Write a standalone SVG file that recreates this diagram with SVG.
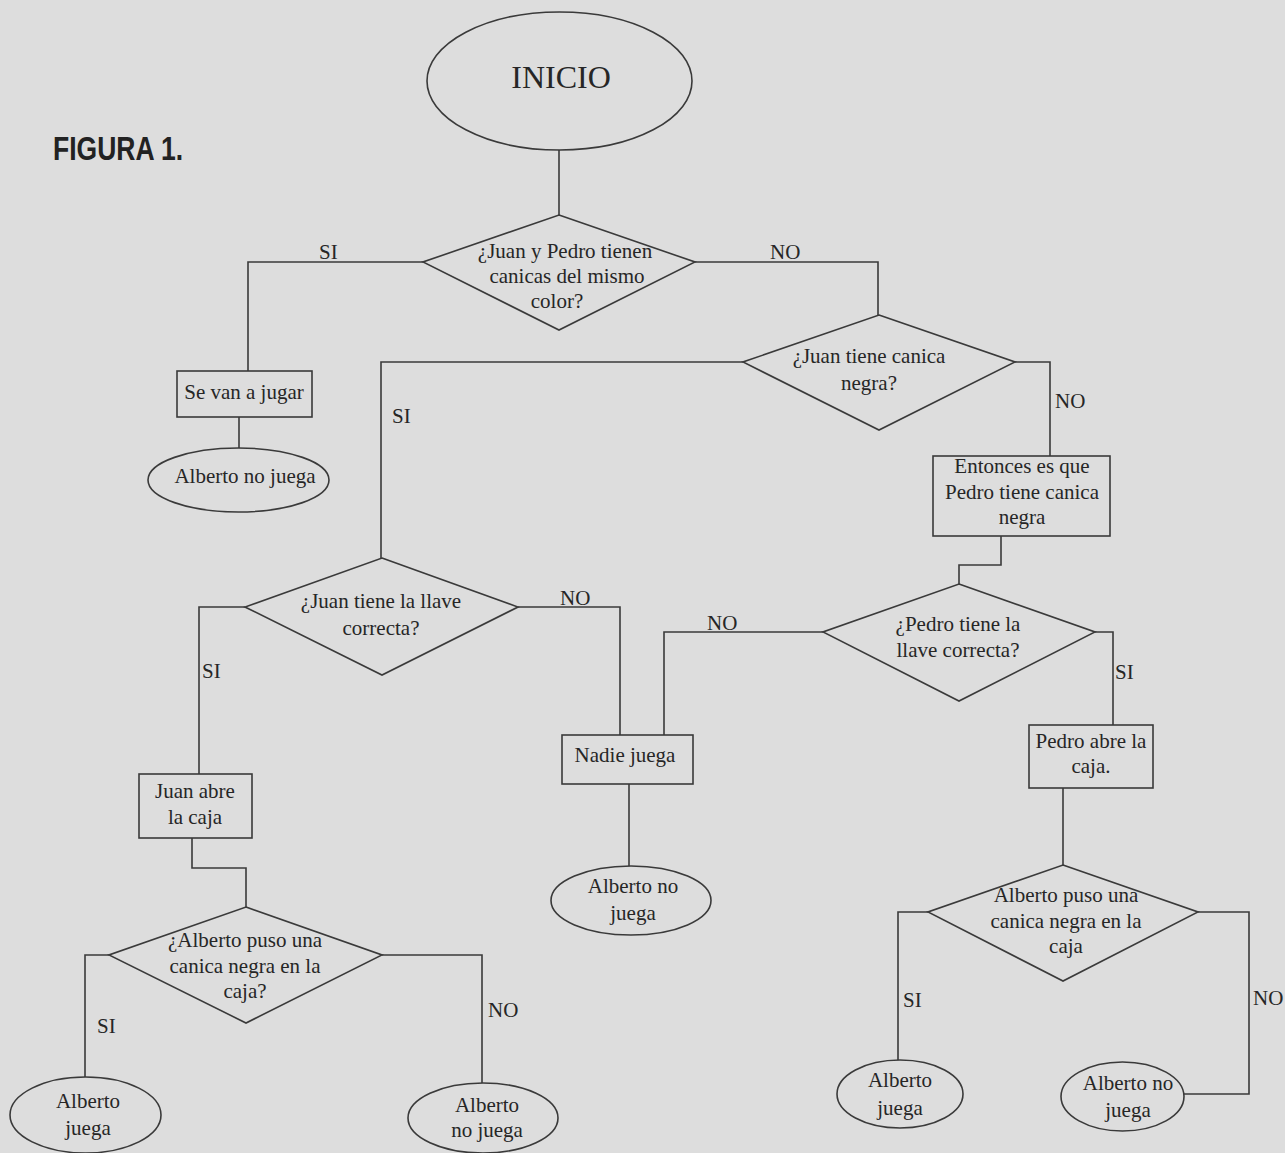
<svg xmlns="http://www.w3.org/2000/svg" width="1285" height="1153" viewBox="0 0 1285 1153">
<style>
.shape{fill:none;stroke:#3a3a3a;stroke-width:1.6}
.conn path{fill:none;stroke:#3a3a3a;stroke-width:1.6}
text{font-family:"Liberation Serif","Times New Roman",serif;font-size:21px;fill:#262626;text-anchor:middle}
.title{font-family:"Liberation Sans",Arial,sans-serif;font-weight:bold;font-size:33px;text-anchor:start;fill:#222}
.big{font-size:32px}
.lbl{text-anchor:start}
</style>
<rect x="0" y="0" width="1285" height="1153" fill="#dddddd"/>
<text class="title" x="53" y="160" textLength="130" lengthAdjust="spacingAndGlyphs">FIGURA 1.</text>

<g class="conn" id="connectors">
<path d="M559,150 V215"/>
<path d="M423,262 H248 V371"/>
<path d="M239,417 V448"/>
<path d="M695,262 H878 V315"/>
<path d="M1015,362 H1050 V456"/>
<path d="M743,362 H381 V558"/>
<path d="M1001,536 V565 H959 V584"/>
<path d="M245,607 H199 V774"/>
<path d="M518,607 H620 V735"/>
<path d="M823,632 H664 V735"/>
<path d="M1095,632 H1113 V725"/>
<path d="M629,784 V866"/>
<path d="M192,838 V868 H246 V907"/>
<path d="M109,955 H85 V1077"/>
<path d="M382,955 H482 V1083"/>
<path d="M1063,788 V865"/>
<path d="M928,912 H898 V1060"/>
<path d="M1198,912 H1249 V1094 H1184"/>
<text class="lbl" x="319" y="259">SI</text>
<text class="lbl" x="770" y="259">NO</text>
<text class="lbl" x="392" y="423">SI</text>
<text class="lbl" x="1055" y="408">NO</text>
<text class="lbl" x="560" y="605">NO</text>
<text class="lbl" x="707" y="630">NO</text>
<text class="lbl" x="202" y="678">SI</text>
<text class="lbl" x="1115" y="679">SI</text>
<text class="lbl" x="97" y="1033">SI</text>
<text class="lbl" x="488" y="1017">NO</text>
<text class="lbl" x="903" y="1007">SI</text>
<text class="lbl" x="1253" y="1005">NO</text>
</g>

<g id="inicio">
<ellipse class="shape" cx="559.5" cy="81" rx="132.5" ry="69"/>
<text class="big" x="561" y="88">INICIO</text>
</g>

<g id="d1">
<polygon class="shape" points="559,215 695,262 559,330 423,262"/>
<text x="565" y="258">¿Juan y Pedro tienen</text>
<text x="567" y="283">canicas del mismo</text>
<text x="557" y="308">color?</text>
</g>

<g id="b1">
<rect class="shape" x="177" y="371" width="135" height="46"/>
<text x="244" y="399">Se van a jugar</text>
</g>

<g id="e1">
<ellipse class="shape" cx="238.5" cy="480" rx="90.5" ry="32"/>
<text x="245" y="483">Alberto no juega</text>
</g>

<g id="d2">
<polygon class="shape" points="879,315 1015,362 879,430 743,362"/>
<text x="869" y="363">¿Juan tiene canica</text>
<text x="869" y="390">negra?</text>
</g>

<g id="b2">
<rect class="shape" x="933" y="456" width="177" height="80"/>
<text x="1022" y="473">Entonces es que</text>
<text x="1022" y="499">Pedro tiene canica</text>
<text x="1022" y="524">negra</text>
</g>

<g id="d3">
<polygon class="shape" points="382,558 518,607 382,675 245,607"/>
<text x="381" y="608">¿Juan tiene la llave</text>
<text x="381" y="635">correcta?</text>
</g>

<g id="d4">
<polygon class="shape" points="959,584 1095,632 959,701 823,632"/>
<text x="958" y="631">¿Pedro tiene la</text>
<text x="958" y="657">llave correcta?</text>
</g>

<g id="b3">
<rect class="shape" x="139" y="774" width="113" height="64"/>
<text x="195" y="798">Juan abre</text>
<text x="195" y="824">la caja</text>
</g>

<g id="b4">
<rect class="shape" x="562" y="735" width="131" height="49"/>
<text x="625" y="762">Nadie juega</text>
</g>

<g id="b5">
<rect class="shape" x="1029" y="725" width="124" height="63"/>
<text x="1091" y="748">Pedro abre la</text>
<text x="1091" y="773">caja.</text>
</g>

<g id="e2">
<ellipse class="shape" cx="631" cy="900.5" rx="80" ry="34.5"/>
<text x="633" y="893">Alberto no</text>
<text x="633" y="920">juega</text>
</g>

<g id="d5">
<polygon class="shape" points="246,907 382,955 246,1023 109,955"/>
<text x="245" y="947">¿Alberto puso una</text>
<text x="245" y="973">canica negra en la</text>
<text x="245" y="998">caja?</text>
</g>

<g id="d6">
<polygon class="shape" points="1063,865 1198,912 1063,981 928,912"/>
<text x="1066" y="902">Alberto puso una</text>
<text x="1066" y="928">canica negra en la</text>
<text x="1066" y="953">caja</text>
</g>

<g id="e3">
<ellipse class="shape" cx="85.5" cy="1115" rx="75.5" ry="38"/>
<text x="88" y="1108">Alberto</text>
<text x="88" y="1135">juega</text>
</g>

<g id="e4">
<ellipse class="shape" cx="483" cy="1118" rx="75" ry="35"/>
<text x="487" y="1112">Alberto</text>
<text x="487" y="1137">no juega</text>
</g>

<g id="e5">
<ellipse class="shape" cx="900" cy="1094" rx="63" ry="34"/>
<text x="900" y="1087">Alberto</text>
<text x="900" y="1115">juega</text>
</g>

<g id="e6">
<ellipse class="shape" cx="1122.5" cy="1096.5" rx="61.5" ry="34.5"/>
<text x="1128" y="1090">Alberto no</text>
<text x="1128" y="1117">juega</text>
</g>
</svg>
